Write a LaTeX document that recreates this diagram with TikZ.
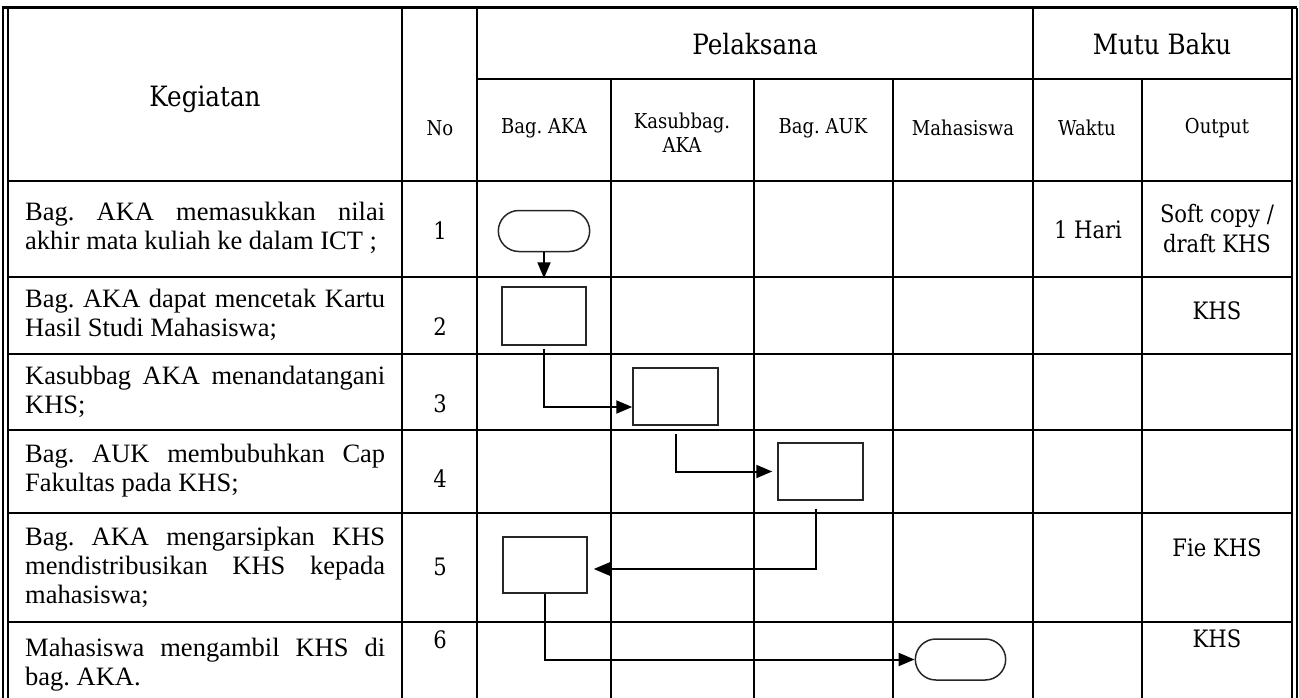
\documentclass[tikz,border=0pt]{standalone}
\usepackage{fontspec}
\setmainfont{Liberation Serif}
\newfontfamily\cambria{DejaVu Serif}[FakeStretch=0.88]
\usetikzlibrary{arrows.meta,shapes.misc}
\frenchspacing

\tikzset{
  hd/.style={font=\cambria\fontsize{28}{32}\selectfont},
  sub/.style={font=\cambria\fontsize{20.5}{24}\selectfont, align=center},
  cell/.style={font=\cambria\fontsize{24}{30}\selectfont, align=center},
  keg/.style={anchor=west, text width=360pt, align=justify, inner sep=0pt,
    font=\fontsize{26.5}{29}\selectfont},
  proc/.style={draw=black!85, line width=1.5pt, minimum width=85pt, minimum height=57pt},
  term/.style={draw=black!85, rounded rectangle, line width=1.5pt,
    minimum width=98pt, minimum height=41pt},
  flow/.style={line width=2pt, -{Triangle[length=16pt,width=13pt]}}
}

\begin{document}
\begin{tikzpicture}[x=1pt,y=-1pt]
  \useasboundingbox (0,0) rectangle (1299,698);

  % table frame and grid
  \draw[line width=3pt] (2,8) -- (1297,8);
  \draw[line width=1.5pt] (3,8) -- (3,698) (8,8) -- (8,698);
  \draw[line width=1.5pt] (1292,8) -- (1292,698) (1297,8) -- (1297,698);
  \begin{scope}[line width=2.2pt]
    \draw (477,79) -- (1292,79);
    \foreach \y in {181,277,354,430,513,622}
      \draw (8,\y) -- (1292,\y);
    \foreach \x in {402,477,1033}
      \draw (\x,8) -- (\x,698);
    \foreach \x in {611,754,893,1142}
      \draw (\x,79) -- (\x,698);
  \end{scope}

  % header
  \node[hd] (kegiatan) at (205,99) {Kegiatan};
  \node[hd] (pelaksana) at (755,44) {Pelaksana};
  \node[hd] (mutu) at (1162,44) {Mutu Baku};
  \begin{scope}[every node/.style={sub}]
    \node (no) at (440,128) {No};
    \node (bagaka) at (544,128) {Bag. AKA};
    \node (kasubbag) at (682,133) {Kasubbag.\\AKA};
    \node (bagauk) at (823,128) {Bag. AUK};
    \node (mhs) at (963,128) {Mahasiswa};
    \node (waktu) at (1087,128) {Waktu};
    \node (output) at (1217,128) {Output};
  \end{scope}

  % kegiatan
  \node[keg] (keg1) at (25,228) {Bag. AKA memasukkan nilai\linebreak akhir mata kuliah ke dalam ICT ;};
  \node[keg] (keg2) at (25,315) {Bag. AKA dapat mencetak Kartu\linebreak Hasil Studi Mahasiswa;};
  \node[keg] (keg3) at (25,392) {Kasubbag AKA menandatangani\linebreak KHS;};
  \node[keg] (keg4) at (25,471) {Bag. AUK membubuhkan Cap\linebreak Fakultas pada KHS;};
  \node[keg] (keg5) at (25,567) {Bag. AKA mengarsipkan KHS\linebreak mendistribusikan KHS kepada\linebreak mahasiswa;};
  \node[keg] (keg6) at (25,665) {Mahasiswa mengambil KHS di\linebreak bag. AKA.};

  % nomor, waktu, output
  \begin{scope}[every node/.style={cell}]
    \node (n1) at (440,231) {1};
    \node (n2) at (440,327) {2};
    \node (n3) at (440,404) {3};
    \node (n4) at (440,479) {4};
    \node (n5) at (440,567) {5};
    \node (n6) at (440,640) {6};
    \node (w1) at (1088,230) {1 Hari};
    \node (o1) at (1217,229) {Soft copy /\\draft KHS};
    \node (o2) at (1217,311) {KHS};
    \node (o5) at (1217,548) {Fie KHS};
    \node (o6) at (1217,639) {KHS};
  \end{scope}

  % alur
  \node[term] (t1) at (544,231) {};
  \node[proc, minimum width=84pt, minimum height=58pt] (p2) at (544,316) {};
  \node[proc] (p3) at (675.5,396.5) {};
  \node[proc] (p4) at (820.5,471.5) {};
  \node[proc, minimum width=84pt, minimum height=56pt] (p5) at (545,565) {};
  \node[term, minimum width=97pt] (t6) at (960.5,659.5) {};

  \draw[flow, shorten >=8pt] (t1.south) -- (p2.north);
  \draw[flow, shorten <=3pt] (p2.south) |- ([yshift=-10.5pt]p3.west);
  \draw[flow, shorten <=8pt, shorten >=5pt] (p3.south) |- (p4.west);
  \draw[flow, shorten <=8pt, shorten >=6pt] ([xshift=-5pt]p4.south) |- ([yshift=-4pt]p5.east);
  \draw[flow] (p5.south) |- (t6.west);
\end{tikzpicture}
\end{document}
